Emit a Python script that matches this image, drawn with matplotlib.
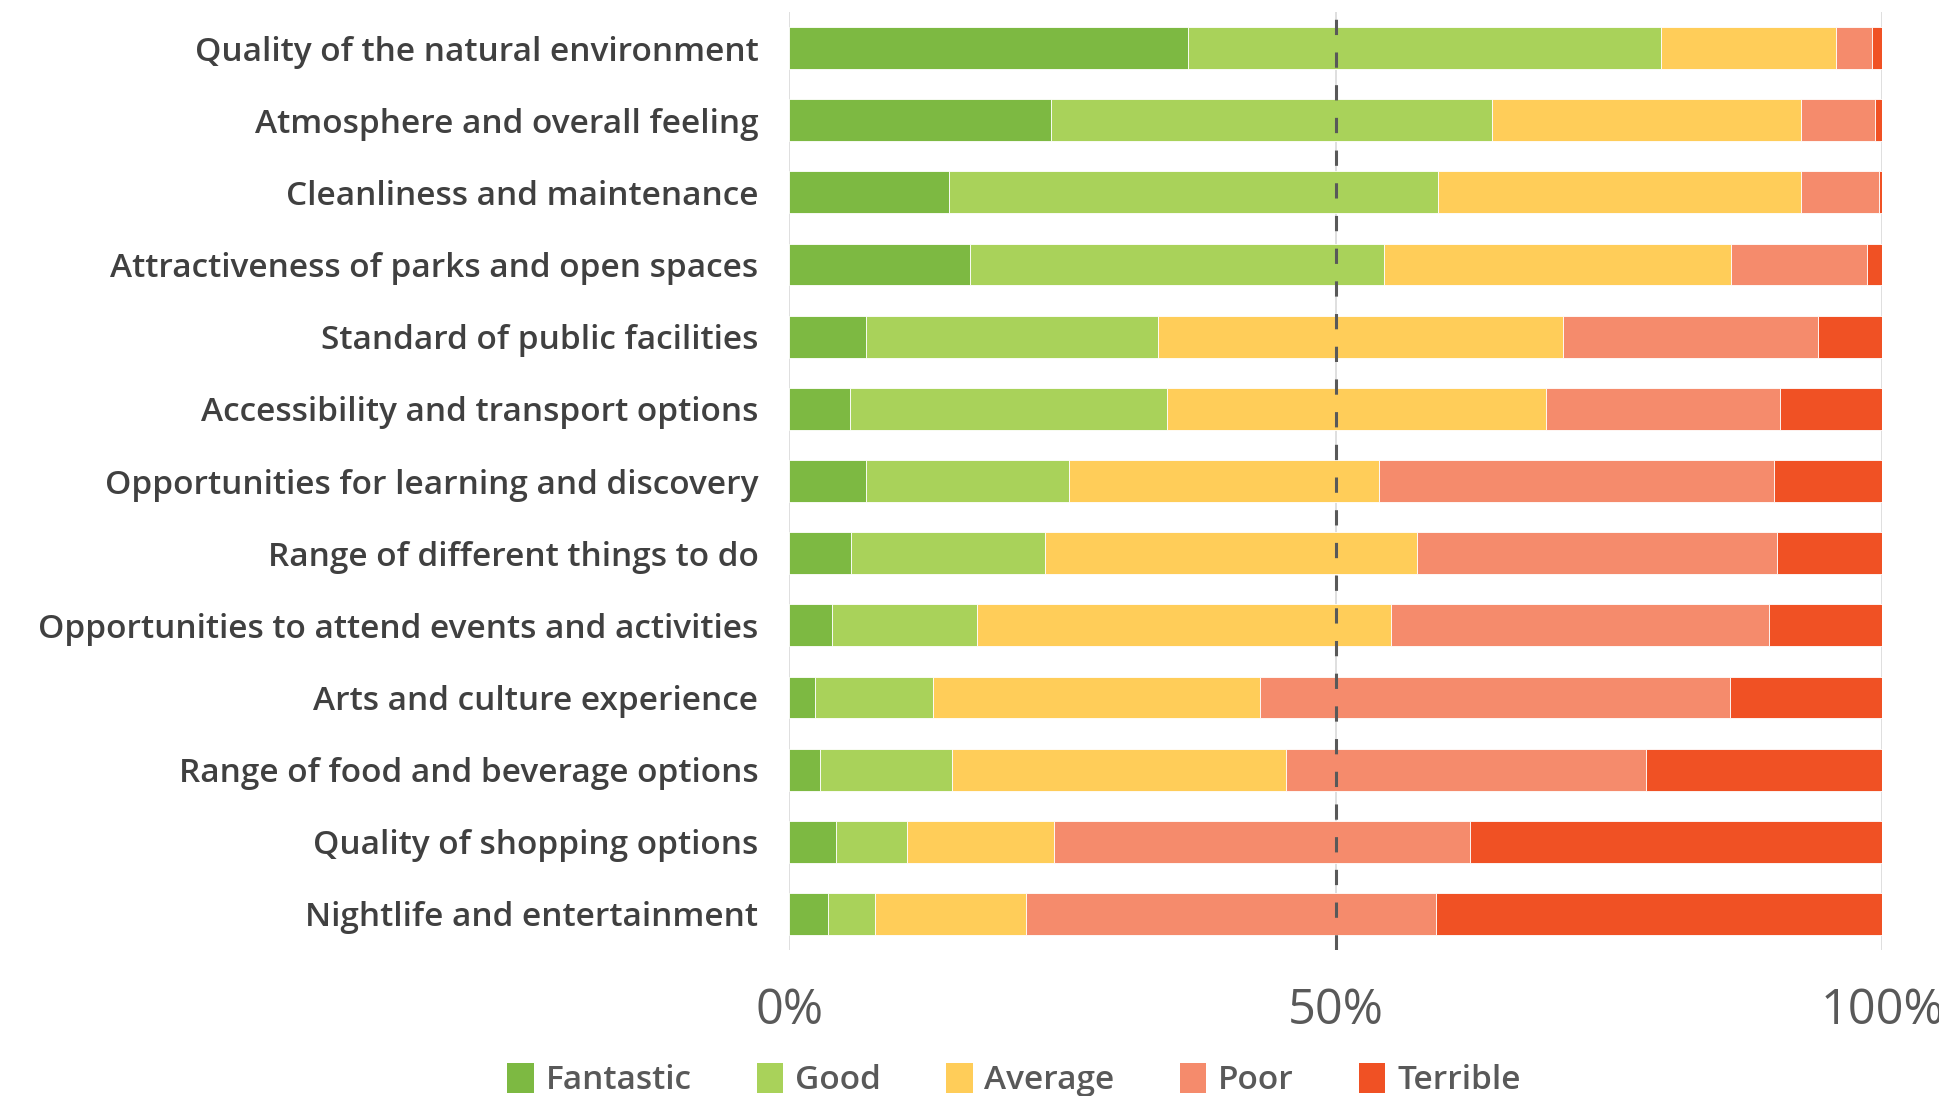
import numpy as np
import matplotlib
matplotlib.use('Agg')
from matplotlib import pyplot as plt
from matplotlib.patches import Patch

plt.rcParams['font.family'] = ['Open Sans', 'DejaVu Sans']
plt.rcParams['font.weight'] = 'semibold'

categories = ['Quality of the natural environment',
              'Atmosphere and overall feeling',
              'Cleanliness and maintenance',
              'Attractiveness of parks and open spaces',
              'Standard of public facilities',
              'Accessibility and transport options',
              'Opportunities for learning and discovery',
              'Range of different things to do',
              'Opportunities to attend events and activities',
              'Arts and culture experience',
              'Range of food and beverage options',
              'Quality of shopping options',
              'Nightlife and entertainment']

fantastic = [36.5, 24.0, 14.6, 16.6, 7.0, 5.6, 7.0, 5.7, 3.9, 2.4, 2.8, 4.3, 3.6]
good      = [43.3, 40.3, 44.8, 37.8, 26.8, 29.0, 18.6, 17.7, 13.3, 10.8, 12.1, 6.5, 4.3]
average   = [16.0, 28.3, 33.2, 31.8, 37.0, 34.7, 28.4, 34.1, 37.9, 29.9, 30.6, 13.4, 13.8]
poor      = [3.3, 6.8, 7.1, 12.4, 23.3, 21.4, 36.1, 32.9, 34.6, 43.0, 32.9, 38.1, 37.5]
terrible  = [0.9, 0.6, 0.3, 1.4, 5.9, 9.3, 9.9, 9.6, 10.4, 13.9, 21.6, 37.7, 40.8]

series = ['Fantastic', 'Good', 'Average', 'Poor', 'Terrible']
colors = ['#7DB942', '#A9D25A', '#FFCD59', '#F58B6C', '#F05124']

fig = plt.figure(figsize=(19.39, 10.96), dpi=100)
ax = fig.add_axes([789/1939, 1-950/1096, (1882-789)/1939, (950-12)/1096])

y = np.arange(len(categories))
left = np.zeros(len(categories))
for name, vals, col in zip(series, [fantastic, good, average, poor, terrible], colors):
    ax.barh(y, vals, left=left, height=0.58, color=col, edgecolor='white',
            linewidth=0.6, label=name, zorder=2)
    left += np.array(vals)

ax.set_xlim(0, 100)
ax.set_ylim(12.5, -0.5)
ax.set_xticks([0, 50, 100])
ax.set_xticklabels(['0%', '50%', '100%'], fontweight='medium')
ax.set_yticks(y)
ax.set_yticklabels(categories)
ax.tick_params(axis='y', length=0, pad=22, labelsize=24, labelcolor='#404040')
ax.tick_params(axis='x', length=0, pad=26, labelsize=35, labelcolor='#595959')
for s in ax.spines.values():
    s.set_visible(False)
ax.xaxis.grid(True, color='#D9D9D9', linewidth=1.2, zorder=0)
ax.set_axisbelow(True)

ax.axvline(50, color='#595959', linewidth=2.2, dashes=(5, 5.7), zorder=3)

handles = [Patch(facecolor=c, label=n) for n, c in zip(series, colors)]
fig.legend(handles=handles, loc='center', bbox_to_anchor=(1014/1939, 1-1080/1096),
           ncol=5, frameon=False, fontsize=24, handlelength=0.8, handleheight=1.0,
           handletextpad=0.35, columnspacing=1.95, labelcolor='#595959',
           borderaxespad=0, borderpad=0)

fig.savefig('out.png', dpi=100)
